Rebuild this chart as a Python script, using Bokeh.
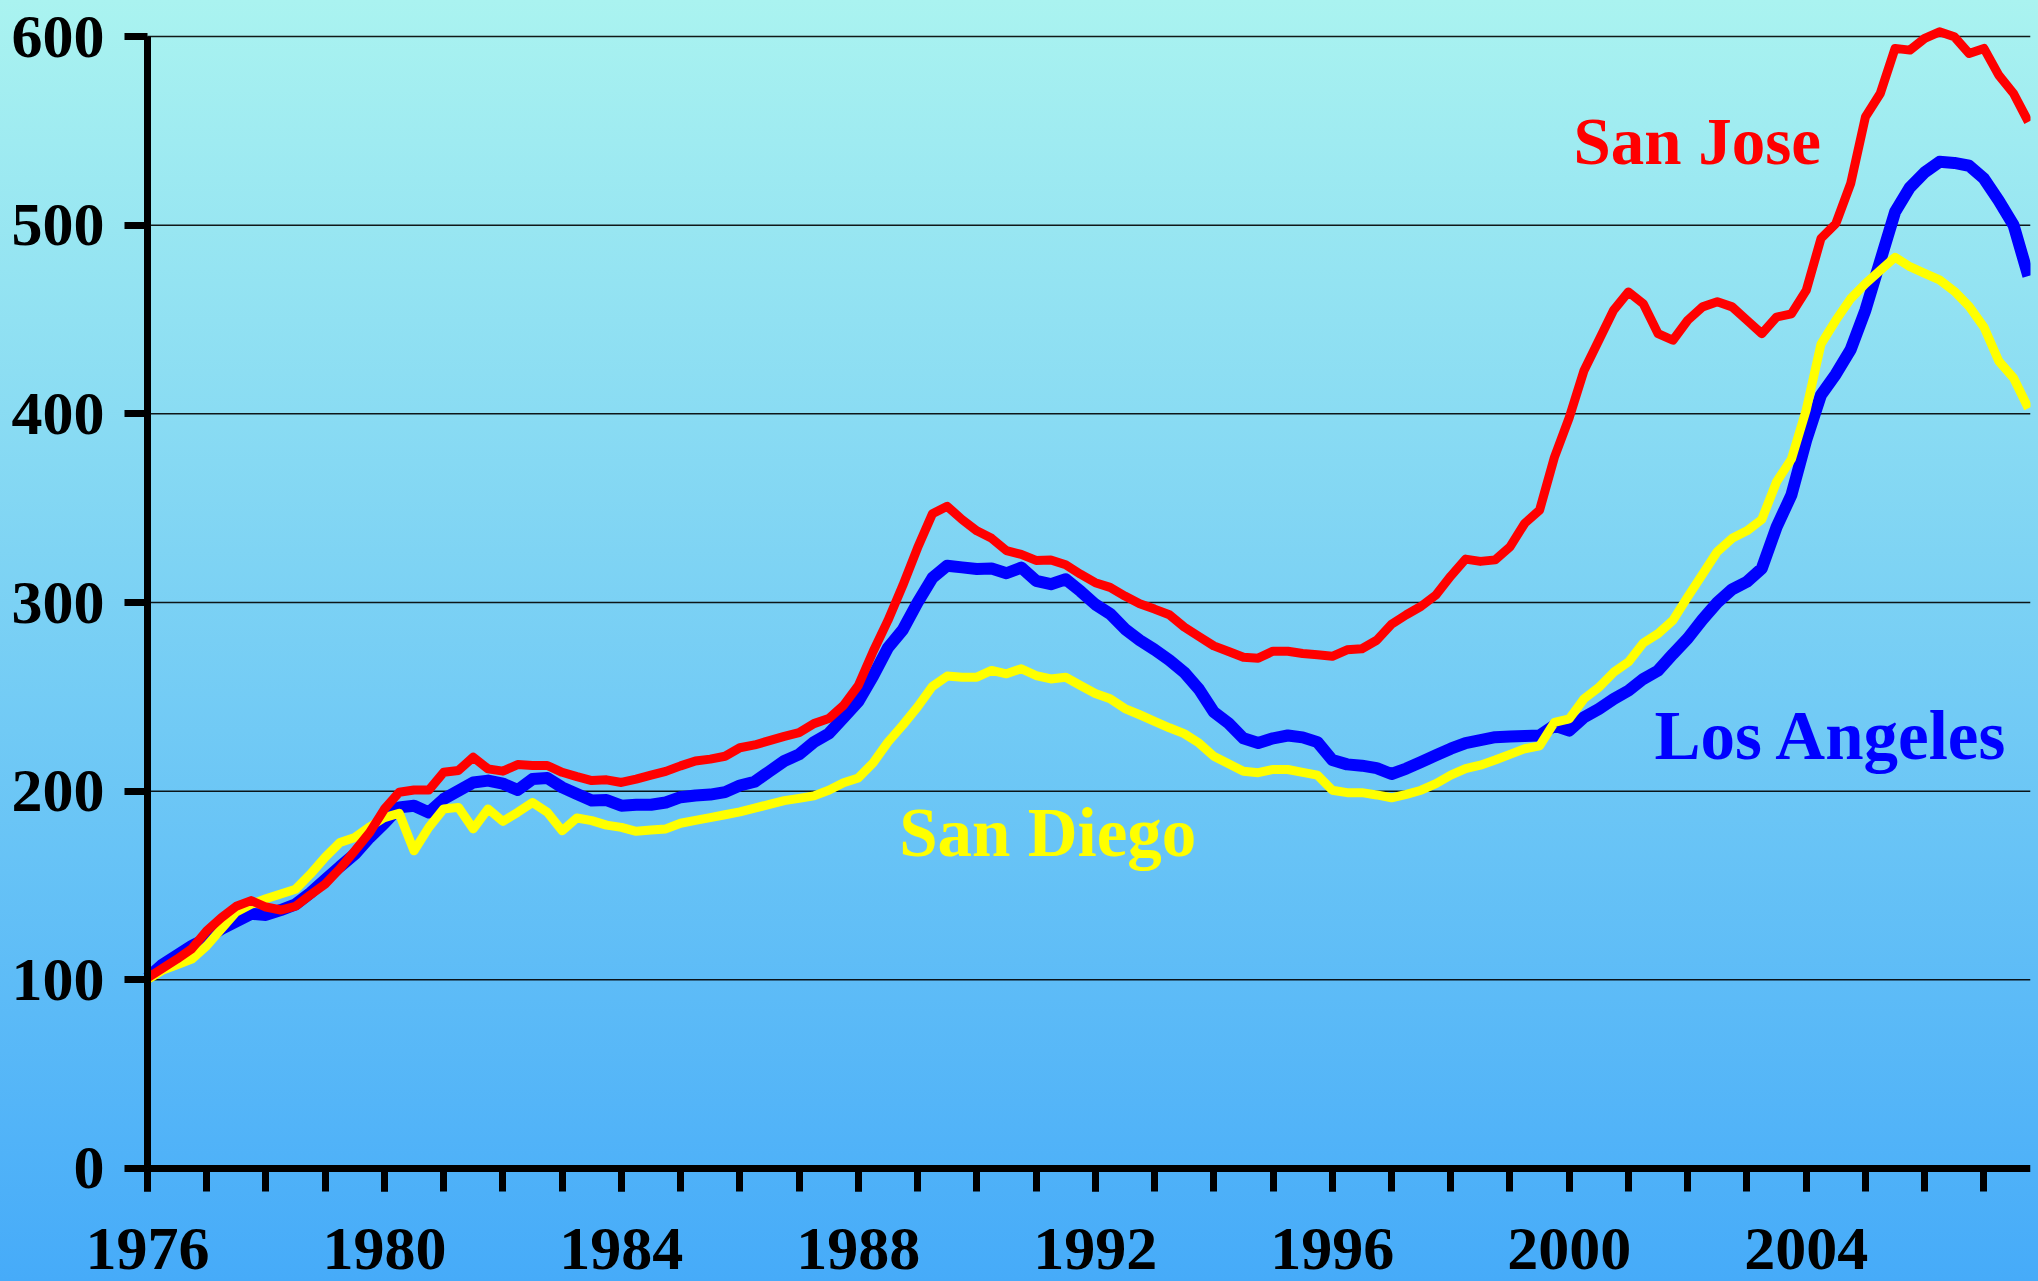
from bokeh.plotting import figure
from bokeh.models import FixedTicker, Label, Range1d, GlobalInlineStyleSheet
from bokeh.embed import file_html
from bokeh.resources import INLINE

# ---- data (quarterly index values, 1976 Q1 = 100) ----
san_jose = [
    101, 106, 111, 116.5,  126, 133, 139, 142,  138.6, 137, 139, 145,  150.7, 159, 168.4, 178,
    190.5, 199.4, 200.6, 200.6,  210, 211, 218, 211.8,  210.6, 214.1, 213.6, 213.6,  210, 207.7, 205.6, 206,
    204.6, 206.4, 208.5, 210.5,  213.4, 216, 217, 218.5,  223, 224.5, 226.8, 229,  231, 235.8, 238.5, 245.5,
    256, 274, 290.5, 309,  329, 347, 351, 344,  338, 334, 327.5, 325.5,  322.3, 322.5, 320, 315,
    310.5, 308, 303.4, 299.3,  296.5, 293.5, 287, 282,  277, 274, 271, 270.5,  274.2, 274.2, 273, 272.3,
    271.5, 274.9, 275.5, 280,  288.5, 293.5, 298, 304,  314, 323, 321.8, 322.6,  329.5, 342, 349, 377,
    398, 423, 439, 455,  464.6, 458.4, 442.5, 439,  449.6, 456.7, 459.4, 456.7,  449.6, 442.5, 451.3, 453,
    465.4, 493, 500.8, 522,  557.4, 569.8, 593.7, 592.8,  599, 602.5, 599.9, 591,  593.7, 579.5, 569.8, 554.8,
]
los_angeles = [
    101, 108, 113, 118,  122, 127, 131, 135,  134.4, 137, 140, 146,  153, 160, 166.6, 175.4,
    183, 191.4, 192.3, 188.7,  195.8, 200.2, 204.6, 205.6,  204, 200.6, 206.4, 207,  202, 198.5, 195, 195.3,
    192.3, 192.8, 192.8, 194,  196.8, 197.7, 198.2, 199.5,  203, 205, 210.5, 216,  219.5, 226, 230.5, 239,
    247.5, 261, 276, 285.5,  300, 313, 319.5, 318.6,  317.8, 318, 315.5, 318.5,  311.5, 309.7, 312.3, 306,
    299, 294, 286, 280,  275, 269.5, 263, 254,  242, 236, 228, 225.5,  228, 229.5, 228.5, 226,
    216.5, 214.2, 213.5, 212.2,  209.1, 212, 215.5, 219,  222.5, 225.5, 227, 228.6,  229, 229.2, 229.5, 234.8,
    232.1, 239.2, 243.6, 248.9,  253.3, 259.5, 263.9, 272.7,  281, 291, 300, 307,  311, 318, 340, 357,
    386, 410, 421, 434,  455, 481, 507, 520,  528, 533.6, 533, 531.5,  524.7, 513, 500, 473,
]
san_diego = [
    100, 105, 108, 111,  118, 127, 136, 140,  143, 145.5, 148, 156,  165, 172.8, 175.5, 181,
    186, 188.3, 168.4, 180.8,  190.6, 191.4, 180, 190.6,  184, 188.8, 194, 188.8,  179, 185.8, 184.4, 182,
    180.8, 178.7, 179.4, 180,  183, 184.5, 186, 187.5,  189, 191, 193, 195,  196.2, 197.5, 200.5, 204.5,
    207, 215, 226, 235,  244.7, 255.5, 261, 260.4,  260.4, 264, 262.2, 264.9,  261.3, 259.5, 260.4, 256,
    251.8, 249, 243.8, 240.5,  237, 233.6, 230.5, 225.5,  218.5, 214.5, 210.5, 209.8,  211.5, 211.5, 210, 208.5,
    200.5, 199.2, 199.2, 198,  196.5, 198.3, 200.5, 204,  208.5, 212, 213.8, 216.5,  219.5, 222.5, 224, 236.5,
    238.3, 249, 255, 263,  268.5, 278.5, 283.5, 290.5,  303, 315, 327, 334,  338, 344, 364, 376,
    402, 437, 449.6, 461,  469, 476, 483, 478,  474.5, 471, 465, 457,  446, 428, 419, 403,
]
quarters = [1976 + i * 0.25 for i in range(len(san_jose))]

year_labels = [1976, 1980, 1984, 1988, 1992, 1996, 2000, 2004]
year_ticks = list(range(1976, 2008))
value_ticks = [0, 100, 200, 300, 400, 500, 600]
series_names = ["San Jose", "Los Angeles", "San Diego"]

FONT = "Liberation Serif"
X_START, X_END = 1976, 2007.786          # extent of the x axis
VIEW_X0 = 1973.52                         # view starts left of the y axis, room for its labels
VIEW_Y0, VIEW_Y1 = -59.9, 612.2           # view extends below 0, room for the year labels

css = (
    "html { height: 100%; background: linear-gradient(to bottom, #aaf3f0 0%, #46abf9 100%); }"
    "body { margin: 0; padding: 0; overflow: hidden; background: transparent; }"
)

p = figure(
    width=2038, height=1281,
    output_backend="svg", toolbar_location=None,
    x_range=Range1d(VIEW_X0, X_END), y_range=Range1d(VIEW_Y0, VIEW_Y1),
    min_border_left=0, min_border_right=8, min_border_top=13, min_border_bottom=0,
)
p.stylesheets = [GlobalInlineStyleSheet(css=css)]
p.background_fill_color = None
p.border_fill_color = None
p.outline_line_color = None

# horizontal grid lines (from the y axis to the right end only)
p.xgrid.visible = False
p.ygrid.visible = False
p.segment(x0=X_START, x1=X_END, y0=value_ticks[1:], y1=value_ticks[1:],
          line_color="black", line_width=1.5, line_alpha=0.9)

# axes
xa = p.xaxis[0]
xa.ticker = FixedTicker(ticks=year_labels, minor_ticks=year_ticks)
xa.bounds = (X_START, X_END)
xa.fixed_location = 0
ya = p.yaxis[0]
ya.ticker = FixedTicker(ticks=value_ticks, minor_ticks=[])
ya.bounds = (0, 600)
ya.fixed_location = X_START
for ax in (xa, ya):
    ax.axis_line_width = 7
    ax.axis_line_color = "black"
    ax.major_tick_in = 0
    ax.major_tick_out = 23
    ax.major_tick_line_width = 7
    ax.major_tick_line_color = "black"
    ax.minor_tick_in = 0
    ax.minor_tick_out = 23
    ax.minor_tick_line_width = 7
    ax.minor_tick_line_color = "black"
    ax.major_label_text_font = FONT
    ax.major_label_text_font_style = "bold"
    ax.major_label_text_font_size = "62px"
    ax.major_label_text_color = "black"
xa.major_label_standoff = 38
ya.major_label_standoff = 20

# series
p.line(quarters, los_angeles, line_color="#0000ff", line_width=12, line_join="round")
p.line(quarters, san_diego, line_color="#ffff00", line_width=9, line_join="round")
p.line(quarters, san_jose, line_color="#ff0000", line_width=9, line_join="round")

# series labels
label_specs = [
    (series_names[0], 2000.07, 544.6, "#ff0000", "67px"),
    (series_names[1], 2001.44, 229.5, "#0000ff", "69px"),
    (series_names[2], 1988.69, 178.0, "#ffff00", "69px"),
]
for name, lx, ly, col, fs in label_specs:
    p.add_layout(Label(x=lx, y=ly, text=name, text_color=col, text_font=FONT,
                       text_font_style="bold", text_font_size=fs,
                       text_align="left", text_baseline="alphabetic"))

open("out.html", "w").write(file_html(p, INLINE))
